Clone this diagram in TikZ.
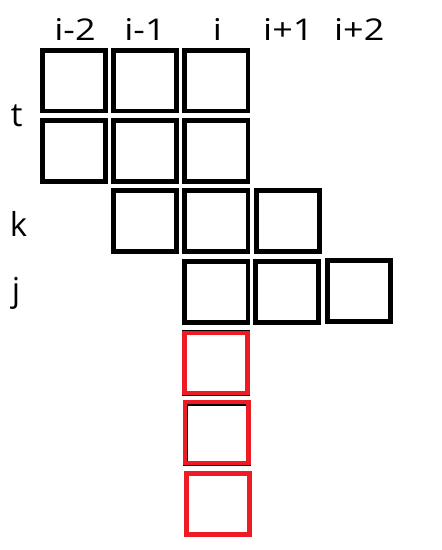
\documentclass[tikz,border=0pt]{standalone}
\usepackage{graphicx}
\usepackage{fontspec}
\setmainfont{Open Sans}
\definecolor{pred}{HTML}{ED1C24}
\newcommand{\widetxt}[1]{\scalebox{1.2}[1]{#1}}
\begin{document}
\begin{tikzpicture}[x=1pt,y=-1pt,
  cell/.style={draw=black,line width=4.7pt,minimum width=63.3pt,minimum height=60.8pt,inner sep=0pt},
  redcell/.style={cell,draw=pred},
  lbl/.style={font=\fontsize{30}{32}\selectfont,anchor=base,inner sep=0pt},
  rlbl/.style={font=\fontsize{33}{36}\selectfont,anchor=base,inner sep=0pt}]
\useasboundingbox (0,0) rectangle (442,550);
% column labels
\node[lbl] (c1) at (75,40) {\widetxt{i-2}};
\node[lbl] (c2) at (145,40) {\widetxt{i-1}};
\node[lbl] (c3) at (217.5,40) {\widetxt{i}};
\node[lbl] (c4) at (288.3,40) {\widetxt{i+1}};
\node[lbl] (c5) at (359.2,40) {\widetxt{i+2}};
% row labels
\node[rlbl] (rt) at (16.7,126.5) {t};
\node[rlbl] (rk) at (18.5,236) {k};
\node[rlbl] (rj) at (16,301.7) {j};
% row 1
\node[cell] (a1) at (74,80.7) {};
\node[cell] (a2) at (145,80.7) {};
\node[cell] (a3) at (216.3,80.7) {};
% row 2
\node[cell] (b1) at (74,150.8) {};
\node[cell] (b2) at (145,150.8) {};
\node[cell] (b3) at (216.3,150.8) {};
% row k
\node[cell] (k1) at (145,221.2) {};
\node[cell] (k2) at (216.3,221.2) {};
\node[cell] (k3) at (287.9,221.2) {};
% row j
\node[cell] (j1) at (216.3,292) {};
\node[cell] (j2) at (287,292) {};
\node[cell] (j3) at (358.8,291) {};
% black outlines under the red cells
\node[cell,minimum height=61.5pt] (u1) at (216,363) {};
\node[cell] (u2) at (217.2,433.6) {};
% red cells
\node[redcell,minimum height=59.9pt] (r1) at (216,363) {};
\node[redcell] (r2) at (216.5,432.5) {};
\node[redcell] (r3) at (217.8,504) {};
\end{tikzpicture}
\end{document}
